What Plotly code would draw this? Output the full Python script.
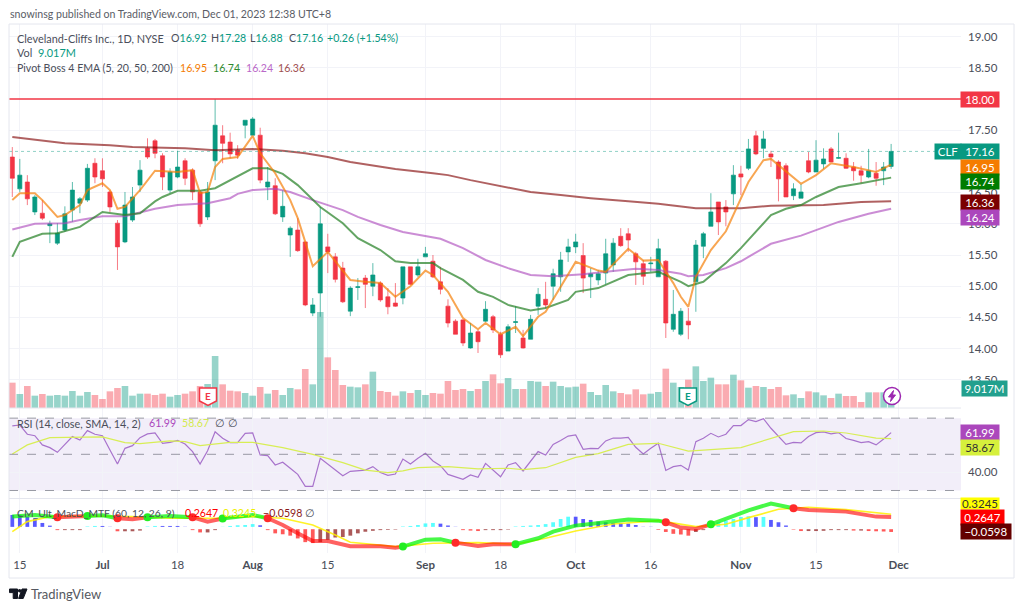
import plotly.graph_objects as go

# OHLC, one row per trading day from Jun 14 to Nov 30 2023
opens = [17.07,16.56,16.67,16.19,16.17,15.97,15.69,15.90,16.22,16.33,16.38,16.97,16.85,16.51,16.01,15.71,16.06,16.62,17.21,17.33,
         17.09,16.54,16.75,17.01,16.86,16.51,16.11,17.01,17.41,17.31,17.18,17.58,17.42,17.42,16.59,16.61,16.11,15.82,15.90,15.71,
         14.57,14.89,15.63,15.47,15.29,14.60,14.98,15.13,15.00,15.05,14.83,14.73,14.81,15.31,15.18,15.47,15.40,15.07,14.68,14.44,
         14.46,14.01,14.27,14.44,14.51,14.23,13.96,14.42,14.17,14.15,14.68,14.79,15.00,15.15,15.55,15.63,15.49,15.15,15.10,15.21,
         15.34,15.80,15.84,15.52,15.36,15.36,15.15,15.40,14.31,14.23,14.44,15.07,15.64,15.96,16.35,16.27,16.48,16.80,16.89,17.41,
         17.21,17.12,16.99,16.93,16.45,16.41,17.01,16.83,16.96,17.20,17.05,17.05,16.91,16.85,16.75,16.81,16.85,16.92]
highs = [17.23,17.04,16.78,16.46,16.38,16.05,16.01,16.28,16.67,16.43,16.96,17.05,17.05,16.54,16.06,16.51,16.59,17.02,17.37,17.36,
         17.13,16.89,17.17,17.05,16.89,16.54,16.67,18.00,17.58,17.46,17.26,17.66,17.71,17.54,16.91,16.73,16.54,15.96,16.09,15.71,
         14.81,16.27,15.84,15.53,15.39,15.00,15.13,15.18,15.37,15.08,14.97,15.05,15.31,15.31,15.44,15.63,15.50,15.31,14.79,14.47,
         14.47,14.41,14.30,14.76,14.54,14.27,14.39,14.68,14.30,14.54,14.97,15.07,15.28,15.55,15.76,15.84,15.69,15.29,15.26,15.76,
         15.77,15.93,15.93,15.55,15.42,15.47,15.76,15.42,14.94,14.65,14.65,15.74,15.87,16.49,16.35,16.38,16.94,16.93,17.36,17.49,
         17.49,17.17,17.02,16.97,16.65,16.64,17.15,17.34,17.21,17.23,17.46,17.13,16.99,16.93,17.20,16.99,16.99,17.28]
lows = [16.43,16.51,16.30,16.14,16.06,15.69,15.66,15.87,16.03,16.17,16.35,16.65,16.59,16.19,15.26,15.69,16.03,16.51,17.04,17.05,
        16.54,16.49,16.73,16.62,16.38,15.95,16.06,16.70,16.97,17.05,17.04,17.37,17.42,16.65,16.38,16.14,16.03,15.47,15.55,14.68,
        14.52,14.51,15.21,15.06,14.73,14.52,14.78,14.65,14.84,14.75,14.55,14.67,14.71,15.02,15.15,15.47,15.13,14.87,14.34,14.23,
        14.04,14.00,13.93,14.43,14.25,13.85,13.96,14.25,14.00,14.15,14.54,14.65,14.78,14.91,15.39,15.53,14.89,14.81,15.02,15.03,
        15.23,15.63,15.55,15.02,15.02,15.23,15.15,14.17,14.27,14.20,14.15,14.59,15.45,15.96,15.82,15.96,16.30,16.46,16.86,17.10,
        17.05,16.91,16.36,16.43,16.38,16.41,16.81,16.83,16.88,16.99,17.04,16.88,16.69,16.65,16.73,16.61,16.62,16.88]
closes = [16.73,16.78,16.40,16.43,16.09,16.00,15.85,16.16,16.54,16.40,16.89,16.75,16.72,16.27,15.63,16.30,16.43,16.86,17.07,17.13,
          16.75,16.83,16.91,16.73,16.51,16.00,16.51,17.58,17.29,17.12,17.10,17.66,17.68,16.70,16.67,16.16,16.28,15.93,15.57,14.70,
          14.70,16.00,15.55,15.11,14.75,14.97,14.99,15.03,15.18,14.78,14.67,14.68,15.31,15.03,15.31,15.52,15.15,14.95,14.41,14.23,
          14.09,14.25,14.11,14.63,14.30,13.90,14.35,14.43,14.01,14.47,14.87,14.70,15.20,15.42,15.63,15.71,15.13,15.20,15.20,15.52,
          15.69,15.65,15.74,15.39,15.16,15.37,15.60,14.41,14.55,14.60,14.38,15.66,15.84,16.19,16.03,16.19,16.78,16.75,17.20,17.12,
          17.36,17.07,16.72,16.43,16.56,16.51,16.83,17.02,17.04,16.99,17.06,16.89,16.85,16.78,16.85,16.73,16.91,17.16]

# volume in millions
volumes = [11.4,6.3,9.9,5.55,6.3,5.55,5.85,5.55,7.65,5.55,7.2,5.85,4.05,7.5,9.0,9.9,5.55,6.45,6.45,5.85,
           6.45,5.1,5.85,6.45,7.5,9.9,10.8,23.4,10.65,7.8,7.5,6.75,5.55,9.45,6.45,8.1,5.85,9.0,8.4,17.55,
           10.65,43.2,22.8,17.1,10.35,9.6,9.3,10.65,16.35,7.65,7.2,5.55,7.5,6.75,8.1,5.85,6.75,6.45,12.15,8.1,
           8.55,7.65,8.55,12.15,15.15,11.1,13.5,8.55,8.55,12.15,11.85,9.9,11.85,9.9,9.3,9.6,10.95,7.2,5.85,10.35,
           7.5,6.75,6.15,8.4,6.15,6.45,7.2,17.7,11.4,9.45,12.75,18.75,12.15,13.65,10.65,10.65,15.0,12.45,9.15,9.9,
           9.45,8.55,9.45,5.7,6.15,4.5,7.5,7.05,5.7,4.5,6.45,5.4,5.4,2.7,7.05,7.05,7.05,9.017]

# EMA lines, read at the bars where they bend
ema5_idx = [0,1,3,4,6,7,9,10,12,13,14,15,17,19,22,24,25,26,27,28,30,32,33,35,37,38,39,40,42,44,45,47,49,51,53,55,56,58,60,62,
            63,65,67,68,70,71,73,75,78,79,82,84,86,88,89,90,91,93,95,97,98,100,101,105,107,109,112,115,117]
ema5_vals = [16.38,16.49,16.49,16.38,16.11,16.14,16.30,16.54,16.65,16.54,16.24,16.27,16.54,16.85,16.83,16.86,16.49,16.51,16.91,17.04,
             17.07,17.41,17.13,16.81,16.38,16.09,15.71,15.32,15.55,15.26,15.10,15.07,15.05,14.83,15.00,15.25,15.18,14.91,14.49,14.31,
             14.41,14.23,14.35,14.20,14.51,14.59,14.99,15.39,15.25,15.23,15.60,15.41,15.42,15.05,14.83,14.67,15.15,15.58,15.88,16.41,
             16.67,17.02,17.04,16.64,16.78,16.97,16.91,16.83,16.95]
ema20_idx = [0,1,4,6,9,12,15,17,19,20,22,25,27,29,32,34,36,38,40,41,44,46,49,51,53,56,57,60,62,64,66,69,71,74,75,78,82,86,89,90,
             92,95,97,101,103,105,107,110,113,115,117]
ema20_vals = [15.47,15.71,15.84,15.85,15.95,16.19,16.14,16.17,16.36,16.43,16.53,16.53,16.57,16.70,16.89,16.89,16.80,16.62,16.38,16.27,
              16.01,15.77,15.58,15.40,15.37,15.37,15.29,15.10,14.91,14.83,14.70,14.61,14.65,14.78,14.91,14.97,15.18,15.23,15.07,15.00,
              15.07,15.37,15.61,16.14,16.24,16.30,16.43,16.59,16.65,16.70,16.74]
ema50_idx = [0,3,7,9,12,15,19,22,26,29,30,32,35,37,40,44,46,49,52,55,57,60,63,66,69,72,76,79,83,86,89,90,92,95,97,101,105,110,114,117]
ema50_vals = [15.91,16.00,16.01,16.06,16.12,16.12,16.24,16.30,16.33,16.41,16.48,16.54,16.56,16.51,16.38,16.22,16.11,15.98,15.87,15.81,
              15.76,15.61,15.42,15.29,15.18,15.16,15.19,15.23,15.28,15.26,15.20,15.16,15.18,15.29,15.40,15.68,15.81,16.03,16.16,16.24]
ema200_idx = [0,7,13,16,23,27,32,36,39,42,45,49,51,56,58,61,65,69,73,77,82,86,91,97,101,108,113,117]
ema200_vals = [17.39,17.29,17.26,17.23,17.21,17.18,17.20,17.17,17.13,17.07,16.99,16.91,16.88,16.81,16.78,16.70,16.61,16.51,16.46,16.41,
               16.36,16.32,16.25,16.25,16.29,16.30,16.35,16.36]

rsi_vals = [65.7,66.2,61.1,60.3,55.2,53.7,51.1,55.5,59.8,57.9,63.1,61.1,60.3,52.4,44.6,53.3,54.8,59.2,61.3,61.8,
            56.1,56.6,57.7,55.7,51.5,44.6,52.0,62.5,58.9,56.5,56.5,61.6,61.8,49.6,49.3,44.1,45.6,42.3,38.9,32.3,
            32.3,47.8,44.5,41.3,38.2,40.6,41.0,41.3,43.2,39.9,38.4,39.1,47.4,44.6,47.8,50.6,46.3,43.7,38.9,37.5,
            36.2,38.6,37.3,45.0,41.3,37.6,44.1,45.4,40.8,46.3,51.5,49.6,55.5,57.6,60.1,60.7,52.8,53.3,53.1,57.4,
            59.0,58.9,59.4,53.9,50.2,53.3,56.1,41.1,43.2,43.9,41.3,57.0,58.9,61.6,59.6,61.1,65.9,65.9,69.2,68.1,
            69.7,64.4,59.8,55.5,56.6,56.3,59.8,62.0,62.4,61.3,62.0,58.7,57.7,56.5,57.0,55.2,58.5,61.99]
rsi_ma_idx = [0,2,5,9,12,15,17,21,23,25,29,32,36,40,44,47,50,52,54,58,62,66,68,71,75,78,82,86,90,97,102,104,108,111,115,117]
rsi_ma_vals = [50.2,55.2,59.2,59.6,59.6,56.5,55.9,57.4,57.0,54.8,56.6,56.6,53.7,50.0,45.4,41.3,39.9,40.8,42.6,43.2,
               41.9,42.3,41.5,42.6,48.3,50.4,55.5,56.1,51.8,53.7,59.8,62.5,62.9,61.8,58.9,58.67]

macd_idx = [0,3,6,9,10,12,14,16,18,21,24,26,28,30,32,34,36,38,40,42,45,49,51,52,55,57,59,62,64,67,
            70,72,75,79,82,86,87,89,91,93,95,98,101,104,106,111,115,117]
macd_vals = [.272,.308,.257,.272,.286,.301,.236,.214,.257,.286,.257,.164,.229,.272,.308,.236,.092,-.089,-.255,-.255,
             -.370,-.370,-.399,-.377,-.226,-.218,-.291,-.363,-.327,-.327,-.197,-.053,.077,.149,.207,.185,.149,.034,.005,.106,
             .236,.409,.553,.452,.416,.380,.272,.2647]
signal_idx = [0,2,5,10,16,21,27,32,36,40,43,45,51,56,62,67,71,75,80,86,91,95,98,102,106,111,117]
signal_vals = [-.053,.164,.272,.286,.272,.236,.236,.272,.236,.092,-.125,-.283,-.377,-.305,-.291,-.327,-.197,-.038,.113,.185,
               .056,.106,.250,.430,.474,.423,.3245]
hist_vals = [.308,.308,.272,.236,.135,.077,-.02,-.02,-.02,-.02,.06,.07,.07,.05,-.045,-.045,-.045,-.03,.06,.07,
             .07,.07,.07,.05,-.02,-.07,-.07,-.02,.05,.07,.085,.09,.11,.085,-.02,-.09,-.11,-.14,-.20,-.28,
             -.30,-.28,-.23,-.18,-.17,-.14,-.09,-.055,-.035,-.02,-.015,-.01,.06,.07,.09,.125,.135,.12,.08,.02,
             -.02,-.03,-.04,-.02,-.02,-.02,-.01,.06,.07,.08,.09,.11,.15,.22,.27,.27,.22,.20,.165,.15,
             .135,.13,.12,.09,.03,.01,-.015,-.06,-.10,-.115,-.14,-.06,-.02,.09,.15,.185,.22,.265,.28,.26,
             .265,.20,.15,.08,-.01,-.04,-.04,-.04,-.035,-.02,-.02,-.02,-.03,-.03,-.04,-.045,-.05,-.0598]
# bar where the macd line crosses the signal line, and its colour from there on
cross_idx = [0,6,10,14,18,24,28,34,52,59,67,87,93,104]
cross_up = [True,False,True,False,True,False,True,False,True,False,True,False,True,False]

tick_idx = [1,12,22,32,42,55,65,75,85,97,107,118]
tick_text = ["15","<b>Jul</b>","18","<b>Aug</b>","15","<b>Sep</b>","18","<b>Oct</b>","16","<b>Nov</b>","15","<b>Dec</b>"]
price_ticks = [13.5,14,14.5,15,15.5,16,16.5,17.5,18.5,19]

UP = "#089981"
DOWN = "#f23645"
FONT = "Lato"
GRID = "#f2f3f8"
TEXT = "#4a4e59"

# the page body has an 8px margin, so the figure is a little smaller than the window
PAGE_MARGIN = 8
L, R, T, B = 9, 961, 24, 553
W, H = 1016 - PAGE_MARGIN, 601 - PAGE_MARGIN


def px(x, y):
    # window pixels to paper fractions
    return (x - L) / (R - L), (B - y) / (B - T)


idx = list(range(len(closes)))
fig = go.Figure()

# volume sits on the base axis so the candles draw over it
vol_colors = ["rgba(8,153,129,0.42)" if c >= o else "rgba(242,54,69,0.42)" for o, c in zip(opens, closes)]
fig.add_trace(go.Bar(x=idx, y=volumes, width=0.88, marker_color=vol_colors, marker_line_width=0, yaxis="y", xaxis="x"))

fig.add_trace(go.Candlestick(x=idx, open=opens, high=highs, low=lows, close=closes, yaxis="y4", xaxis="x",
                             increasing=dict(line=dict(color="rgba(8,153,129,0.65)", width=1), fillcolor=UP),
                             decreasing=dict(line=dict(color="rgba(242,54,69,0.65)", width=1), fillcolor=DOWN)))

for xs, ys, col in [(ema200_idx, ema200_vals, "rgba(128,0,0,0.62)"),
                    (ema50_idx, ema50_vals, "rgba(171,71,188,0.62)"),
                    (ema20_idx, ema20_vals, "rgba(40,130,40,0.72)"),
                    (ema5_idx, ema5_vals, "rgba(245,124,0,0.68)")]:
    fig.add_trace(go.Scatter(x=xs, y=ys, mode="lines", line=dict(color=col, width=2), yaxis="y4", xaxis="x"))

# RSI pane
fig.add_trace(go.Scatter(x=idx, y=rsi_vals, mode="lines", line=dict(color="#a873cc", width=1.2), yaxis="y2", xaxis="x"))
fig.add_trace(go.Scatter(x=rsi_ma_idx, y=rsi_ma_vals, mode="lines", line=dict(color="#d8ee55", width=1.2), yaxis="y2", xaxis="x"))

# MACD pane
hist_colors = []
for i, h in enumerate(hist_vals):
    prev = hist_vals[i - 1] if i else h
    if h > 0:
        hist_colors.append("rgba(0,255,255,0.65)" if h > prev else "rgba(0,0,255,0.65)")
    else:
        hist_colors.append("rgba(255,0,0,0.65)" if h < prev else "rgba(128,0,0,0.65)")
# positive bars stand a little above the zero line in the original
gap = 0.05
hist_base = [gap if h > 0 else 0 for h in hist_vals]
hist_y = [max(h - gap, 0.004) if h > 0 else h for h in hist_vals]
fig.add_trace(go.Bar(x=idx, y=hist_y, base=hist_base, width=0.5, marker_color=hist_colors, marker_line_width=0, yaxis="y3", xaxis="x"))
fig.add_trace(go.Scatter(x=signal_idx, y=signal_vals, mode="lines", line=dict(color="rgba(255,240,0,0.85)", width=1.6), yaxis="y3", xaxis="x"))

macd_by_idx = dict(zip(macd_idx, macd_vals))
ends = cross_idx[1:] + [macd_idx[-1]]
for start, end, up in zip(cross_idx, ends, cross_up):
    seg = [i for i in macd_idx if start <= i <= end]
    col = "rgba(0,245,0,0.72)" if up else "rgba(255,0,0,0.62)"
    fig.add_trace(go.Scatter(x=seg, y=[macd_by_idx[i] for i in seg], mode="lines", line=dict(color=col, width=4), yaxis="y3", xaxis="x"))
fig.add_trace(go.Scatter(x=cross_idx[1:], y=[macd_by_idx[i] for i in cross_idx[1:]], mode="markers",
                         marker=dict(size=8, color=["#22ee22" if u else "#ff2a2a" for u in cross_up[1:]]), yaxis="y3", xaxis="x"))

shapes = []
ann = []


def hline(y, yref, color, width=1, dash="solid"):
    shapes.append(dict(type="line", xref="paper", x0=0, x1=1, yref=yref, y0=y, y1=y, line=dict(color=color, width=width, dash=dash)))


def frame_line(x0, y0, x1, y1, color="#e4e6ee", width=1):
    ax, ay = px(x0, y0)
    bx, by = px(x1, y1)
    shapes.append(dict(type="line", xref="paper", yref="paper", x0=ax, y0=ay, x1=bx, y1=by, line=dict(color=color, width=width)))


def text(x, y, s, size=10.6, color=TEXT, anchor="left"):
    ax, ay = px(x, y)
    ann.append(dict(xref="paper", yref="paper", x=ax, y=ay, text=s, showarrow=False, xanchor=anchor, yanchor="middle",
                    font=dict(family=FONT, size=size, color=color)))


def box(x0, x1, y, s, bg, color="white", h=15):
    ax, ay = px((x0 + x1) / 2, y)
    ann.append(dict(xref="paper", yref="paper", x=ax, y=ay, text=s, showarrow=False, xanchor="center", yanchor="middle",
                    width=x1 - x0, height=h, bgcolor=bg, borderpad=0, font=dict(family=FONT, size=11.5, color=color)))


def poly(points, fill, line=None, width=1):
    parts = []
    for k, (x, y) in enumerate(points):
        ax, ay = px(x, y)
        parts.append(("M" if k == 0 else "L") + f"{ax:.5f},{ay:.5f}")
    shapes.append(dict(type="path", xref="paper", yref="paper", path=" ".join(parts) + " Z", fillcolor=fill,
                       line=dict(color=line or fill, width=width)))


def earnings(cx, color):
    poly([(cx - 8.5, 388), (cx + 8.5, 388), (cx + 8.5, 401), (cx, 405.5), (cx - 8.5, 401)], "white", color, 1.5)
    text(cx, 396, "<b>E</b>", 10, color, "center")


# RSI band and its levels
shapes.append(dict(type="rect", xref="paper", x0=0, x1=1, yref="y2", y0=30, y1=70, fillcolor="rgba(126,87,194,0.1)", line_width=0, layer="below"))
for lvl in [30, 50, 70]:
    hline(lvl, "y2", "rgba(120,123,134,0.75)", 1, "dash")

# price lines
hline(closes[-1], "y4", "rgba(8,153,129,0.45)", 1, "dot")
hline(18, "y4", DOWN, 1.6)

# pane separators and outer frame
frame_line(L, 408, R, 408)
frame_line(L, 498.5, R, 498.5)
frame_line(9, 24, 1014, 24)
frame_line(9, 24, 9, 578)
frame_line(1014, 24, 1014, 578)
frame_line(9, 578, 1014, 578)

earnings(208, DOWN)
earnings(688, UP)

# lightning badge
x0, y0 = px(883.5, 387.5)
x1, y1 = px(900.5, 404.5)
shapes.append(dict(type="circle", xref="paper", yref="paper", x0=x0, y0=y0, x1=x1, y1=y1, fillcolor="white", line=dict(color="#9c27b0", width=1.5)))
poly([(893.5, 390.5), (888.5, 397), (891.5, 397), (890.5, 401.5), (895.5, 395), (892.5, 395)], "#9c27b0")

# TradingView mark
poly([(9.5, 589), (17.5, 589), (17.5, 598.5), (13.2, 598.5), (13.2, 592.6), (9.5, 592.6)], "#131722")
poly([(22, 589), (27, 589), (23.2, 598.5), (18.6, 598.5)], "#131722")
lx0, ly0 = px(17.9, 589)
lx1, ly1 = px(21.3, 592.4)
shapes.append(dict(type="circle", xref="paper", yref="paper", x0=lx0, y0=ly0, x1=lx1, y1=ly1, fillcolor="#131722", line_width=0))

# header texts
text(8, 14, "snowinsg published on TradingView.com, Dec 01, 2023 12:38 UTC+8", 10.6, "#5a5d66")
teal = lambda s: f'<span style="color:{UP}">{s}</span>'
text(15, 38, "Cleveland-Cliffs Inc., 1D, NYSE", 10.9)
text(169, 38, "O" + teal("16.92"))
text(209, 38, "H" + teal("17.28"))
text(248, 38, "L" + teal("16.88"))
text(287, 38, "C" + teal("17.16"))
text(325, 38, teal("+0.26 (+1.54%)"))
text(15, 53, "Vol  " + teal("9.017M"), 10.9)
text(15, 68, "Pivot Boss 4 EMA (5, 20, 50, 200)")
text(178, 68, "16.95", 10.6, "#f57c00")
text(211, 68, "16.74", 10.6, "#2e8b2e")
text(244, 68, "16.24", 10.6, "#ba68c8")
text(276, 68, "16.36", 10.6, "#a05050")
text(15, 423, "RSI (14, close, SMA, 14, 2)", 10.8)
text(147, 423, "61.99", 10.6, "#ab47bc")
text(180, 423, "58.67", 10.6, "#d4ea50")
text(213, 423, "∅")
text(226, 423, "∅")
text(15, 513, "CM_Ult_MacD_MTF (60, 12, 26, 9)", 10.3)
text(183, 513, "0.2647", 10.6, "#ff0000")
text(221, 513, "0.3245", 10.6, "#eeee00")
text(261, 513, "−0.0598", 10.6, "#8b1a1a")
text(303, 513, "∅")
text(29, 594, "TradingView", 13, "#555860")

# last value boxes on the price scale
box(935, 961, 151, "CLF", UP)
box(961, 999, 151, "17.16", UP)
box(961, 999, 99, "18.00", DOWN)
box(961, 999, 167, "16.95", "#f57c00")
box(961, 999, 182, "16.74", "#007c00")
box(961, 999, 202, "16.36", "#7b0000")
box(961, 999, 217, "16.24", "#ab47bc")
box(962, 1007, 388, "9.017M", "#22a08e")
box(961, 999, 432.5, "61.99", "#ab47bc")
box(961, 999, 447.5, "58.67", "#d6f03c", "#333333")
box(961, 999, 503, "0.3245", "#ffff00", "#333333", 11)
box(961, 1004, 517, "0.2647", "#ff0000")
box(961, 1011, 531.5, "−0.0598", "#640000")

fig.update_layout(
    width=W, height=H, autosize=False,
    margin=dict(l=L - PAGE_MARGIN, r=W + PAGE_MARGIN - R, t=T - PAGE_MARGIN, b=H + PAGE_MARGIN - B),
    paper_bgcolor="white", plot_bgcolor="white",
    showlegend=False, barmode="overlay", boxgap=0.22,
    shapes=shapes, annotations=ann,
    xaxis=dict(domain=[0, 1], anchor="y3", range=[-0.44, 126.3], tickmode="array", tickvals=tick_idx, ticktext=tick_text,
               showgrid=True, gridcolor=GRID, gridwidth=1, zeroline=False, showline=False, ticks="",
               tickfont=dict(family=FONT, size=11.5, color=TEXT), ticklabelstandoff=3,
               rangeslider_visible=False),
    yaxis=dict(domain=[0.2741, 1], range=[0, 172.8], visible=False, fixedrange=True),
    yaxis4=dict(overlaying="y", anchor="x", side="right", range=[13.048, 19.202], tickmode="array", tickvals=price_ticks,
                ticktext=[f"{p:.2f}" for p in price_ticks], showgrid=True, gridcolor=GRID, zeroline=False, ticks="",
                tickfont=dict(family=FONT, size=11.5, color=TEXT), ticklabelstandoff=6),
    yaxis2=dict(domain=[0.104, 0.2741], anchor="x", side="right", range=[25.86, 75.6], tickmode="array", tickvals=[40],
                ticktext=["40.00"], showgrid=True, gridcolor=GRID, zeroline=False, ticks="",
                tickfont=dict(family=FONT, size=11.5, color=TEXT), ticklabelstandoff=6),
    yaxis3=dict(domain=[0, 0.104], anchor="x", side="right", range=[-0.515, 0.675], showticklabels=False, showgrid=False, zeroline=False, ticks=""),
)

fig.write_html("out.html")
